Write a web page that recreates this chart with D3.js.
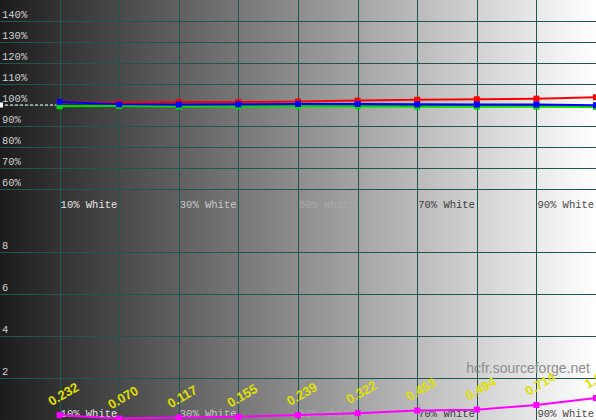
<!DOCTYPE html>
<html>
<head>
<meta charset="utf-8">
<script src="https://cdnjs.cloudflare.com/ajax/libs/d3/7.8.5/d3.min.js"></script>
<style>
  html, body { margin: 0; padding: 0; background: #fff; overflow: hidden; }
  svg { display: block; }
</style>
</head>
<body>
<svg id="svg"></svg>
<script>
// grey levels measured (x axis)
const levels = [10, 20, 30, 40, 50, 60, 70, 80, 90, 100];
// rgb levels in % of target
const redLevels   = [101.2, 101.1, 101.4, 101.4, 101.7, 102.1, 102.5, 102.7, 103.0, 103.7];
const greenLevels = [99.4, 99.5, 99.3, 99.3, 99.4, 99.3, 99.2, 99.2, 99.2, 99.1];
const blueLevels  = [101.4, 100.3, 100.2, 100.3, 100.5, 100.5, 100.3, 100.2, 100.2, 99.9];
// delta E per level
const deltaE = [0.232, 0.070, 0.117, 0.155, 0.239, 0.322, 0.453, 0.494, 0.714, 1.046];
// tick labels
const pctTicks = [60, 70, 80, 90, 100, 110, 120, 130, 140];
const deTicks = [2, 4, 6, 8];
const xLabels = [10, 30, 50, 70, 90];
const xLabelColors = ['#e6e6e6', '#c8c8c8', '#a9a9a9', '#3c3c3c', '#4a4a4a'];

const w = 596;
const h = 420;
const mid = 210;

const svg = d3.select('#svg')
  .attr('width', w)
  .attr('height', h)
  .attr('viewBox', `0 0 ${w} ${h}`);

// scales
const x = d3.scaleLinear().domain([0, 100]).range([0, w]);
const yTop = d3.scaleLinear().domain([50, 150]).range([mid, 0]);
const yBot = d3.scaleLinear().domain([0, 10]).range([h, mid]);

// grey ramp background
const grad = svg.append('defs').append('linearGradient')
  .attr('id', 'ramp')
  .attr('x1', '0%').attr('x2', '100%')
  .attr('y1', '0%').attr('y2', '0%');
grad.append('stop').attr('offset', '0%').attr('stop-color', '#1c1c1c');
grad.append('stop').attr('offset', '100%').attr('stop-color', '#ffffff');

svg.append('rect')
  .attr('width', w)
  .attr('height', h)
  .attr('fill', 'url(#ramp)');

// grid
const gridColor = '#1f5652';
svg.append('g')
  .selectAll('line')
  .data(d3.range(10, 100, 10))
  .enter()
  .append('line')
  .attr('x1', d => Math.round(x(d)) + 0.5)
  .attr('x2', d => Math.round(x(d)) + 0.5)
  .attr('y1', 0)
  .attr('y2', h)
  .attr('stroke', gridColor);

svg.append('g')
  .selectAll('line')
  .data(pctTicks)
  .enter()
  .append('line')
  .attr('x1', 0)
  .attr('x2', w)
  .attr('y1', d => Math.round(yTop(d)) + 0.5)
  .attr('y2', d => Math.round(yTop(d)) + 0.5)
  .attr('stroke', gridColor);

svg.append('g')
  .selectAll('line')
  .data(deTicks)
  .enter()
  .append('line')
  .attr('x1', 0)
  .attr('x2', w)
  .attr('y1', d => Math.round(yBot(d)) + 0.5)
  .attr('y2', d => Math.round(yBot(d)) + 0.5)
  .attr('stroke', gridColor);

// y labels
const mono = "'Liberation Mono', 'Courier New', monospace";
svg.append('g')
  .selectAll('text')
  .data(pctTicks)
  .enter()
  .append('text')
  .attr('x', 2)
  .attr('y', d => yTop(d) - 3)
  .attr('font-family', mono)
  .attr('font-size', '10.5px')
  .attr('fill', '#d0d0d0')
  .text(d => d + '%');

svg.append('g')
  .selectAll('text')
  .data(deTicks)
  .enter()
  .append('text')
  .attr('x', 2)
  .attr('y', d => yBot(d) - 3)
  .attr('font-family', mono)
  .attr('font-size', '10.5px')
  .attr('fill', '#d0d0d0')
  .text(d => d);

// x labels, one row for each panel
[mid - 2, h - 3].forEach(base => {
  svg.append('g')
    .selectAll('text')
    .data(xLabels)
    .enter()
    .append('text')
    .attr('x', d => x(d) + 1)
    .attr('y', base)
    .attr('font-family', mono)
    .attr('font-size', '10.5px')
    .attr('fill', (d, i) => xLabelColors[i])
    .text(d => d + '% White');
});

// watermark
svg.append('text')
  .attr('x', 590)
  .attr('y', 373)
  .attr('text-anchor', 'end')
  .attr('font-family', "'Liberation Sans', Arial, sans-serif")
  .attr('font-size', '14px')
  .attr('fill', '#8e8e8e')
  .text('hcfr.sourceforge.net');

// 100% reference
svg.append('line')
  .attr('x1', 0)
  .attr('x2', x(10) - 2)
  .attr('y1', yTop(100))
  .attr('y2', yTop(100))
  .attr('stroke', '#ffffff')
  .attr('stroke-dasharray', '3,2');
svg.append('rect')
  .attr('x', -2)
  .attr('y', yTop(100) - 2.5)
  .attr('width', 5)
  .attr('height', 5)
  .attr('fill', '#ffffff');

// series drawing
function drawSeries(values, yScale, color, size) {
  const pts = levels.map((l, i) => [x(l), yScale(values[i])]);
  svg.append('path')
    .datum(pts)
    .attr('fill', 'none')
    .attr('stroke', color)
    .attr('stroke-width', 2)
    .attr('d', d3.line());
  svg.append('g')
    .selectAll('rect')
    .data(pts)
    .enter()
    .append('rect')
    .attr('x', d => d[0] - size / 2)
    .attr('y', d => d[1] - size / 2)
    .attr('width', size)
    .attr('height', size)
    .attr('fill', color);
}

drawSeries(redLevels, yTop, '#ff0000', 6);
drawSeries(greenLevels, yTop, '#00e000', 6);
drawSeries(blueLevels, yTop, '#0000ff', 6);
drawSeries(deltaE, yBot, '#ff00ff', 6);

// delta E value labels
svg.append('g')
  .selectAll('text')
  .data(deltaE)
  .enter()
  .append('text')
  .attr('transform', (d, i) => `translate(${x(levels[i]) - 8},${yBot(d) - 9}) rotate(-30)`)
  .attr('font-family', "'Liberation Sans', Arial, sans-serif")
  .attr('font-size', '13px')
  .attr('font-weight', 'bold')
  .attr('fill', '#e0e000')
  .text(d => d.toFixed(3));
</script>
</body>
</html>
